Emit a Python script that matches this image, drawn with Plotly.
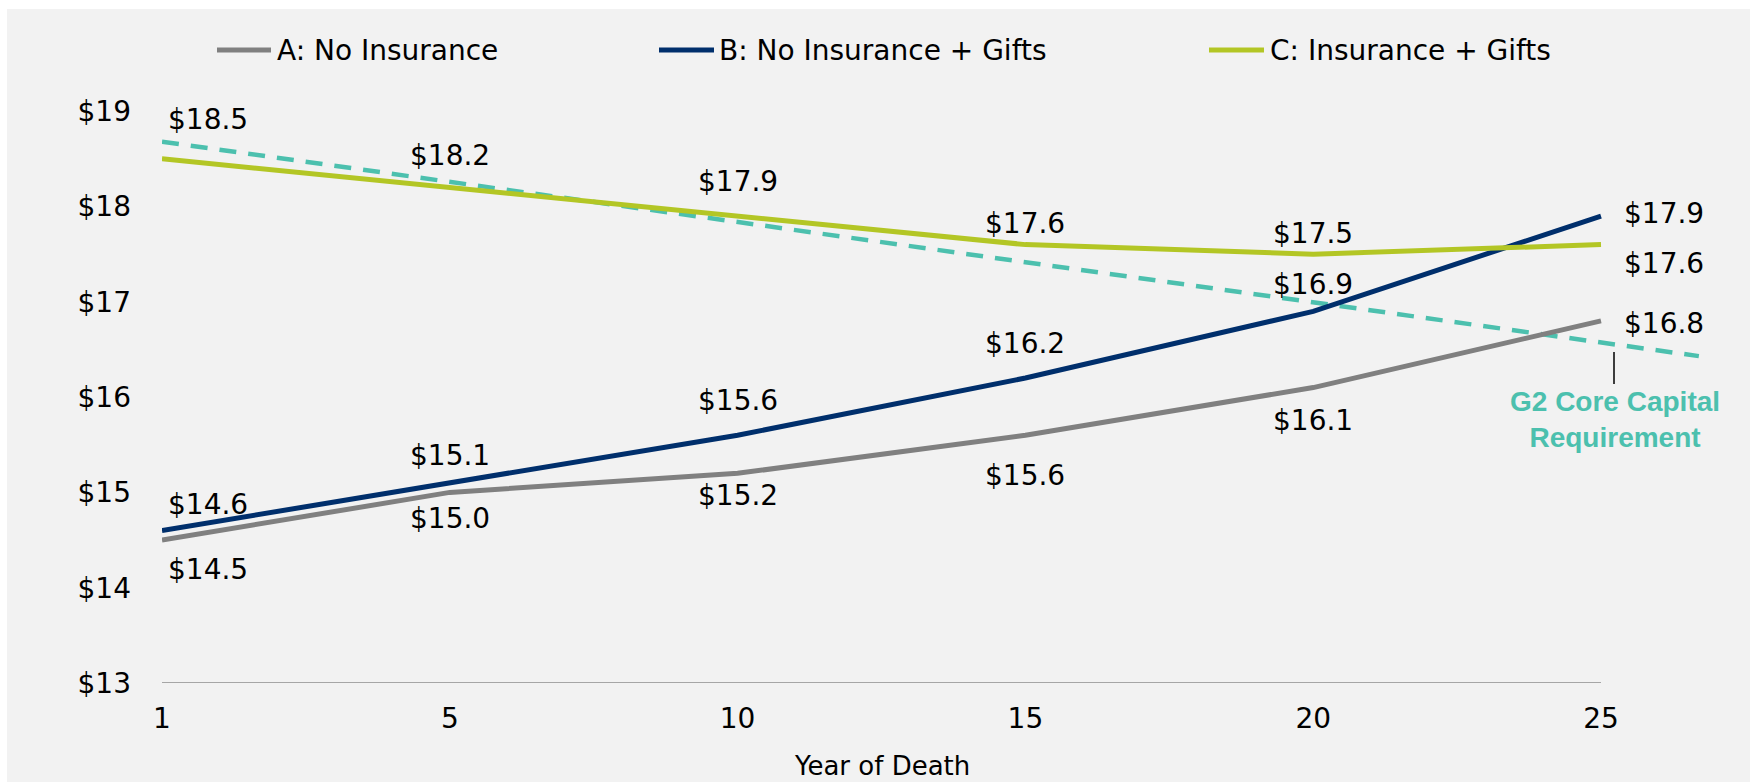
import plotly.graph_objects as go

# ---------------- data ----------------
years = ["1", "5", "10", "15", "20", "25"]
a_no_insurance = [14.5, 15.0, 15.2, 15.6, 16.1, 16.8]
b_no_ins_gifts = [14.6, 15.1, 15.6, 16.2, 16.9, 17.9]
c_ins_gifts = [18.5, 18.2, 17.9, 17.6, 17.5, 17.6]
g2_x = [0, 5.34]            # category-index positions of the requirement line
g2_values = [18.68, 16.43]
y_ticks = [13, 14, 15, 16, 17, 18, 19]
y_tick_labels = ["$13", "$14", "$15", "$16", "$17", "$18", "$19"]

# label vertical offsets (px, positive = up)
dy_a = [-29, -26, -22, -40, -33, -3]
dy_b = [26, 27, 35, 35, 27, 3]
dy_c = [39, 32, 35, 21, 21, -19]

GRAY = "#808080"
NAVY = "#002F6C"
LIME = "#B3C625"
TEAL = "#4CC0AE"
FONT = "DejaVu Sans, sans-serif"
FS = 28

# plot area in px
L, T, W, H = 162, 92, 1554, 591


def px_x(px):
    return (px - L) / W


def px_y(py):
    return (T + H - py) / H


xi = list(range(len(years)))
fig = go.Figure()

fig.add_trace(go.Scatter(x=g2_x, y=g2_values, mode="lines",
                         line=dict(color=TEAL, width=4.5, dash="17px,12px"),
                         showlegend=False, hoverinfo="skip"))
fig.add_trace(go.Scatter(x=xi, y=a_no_insurance, mode="lines", name="A: No Insurance",
                         line=dict(color=GRAY, width=5), showlegend=False))
fig.add_trace(go.Scatter(x=xi, y=b_no_ins_gifts, mode="lines", name="B: No Insurance + Gifts",
                         line=dict(color=NAVY, width=5), showlegend=False))
fig.add_trace(go.Scatter(x=xi, y=c_ins_gifts, mode="lines", name="C: Insurance + Gifts",
                         line=dict(color=LIME, width=5), showlegend=False))

annotations = []
shapes = []

# background panel
shapes.append(dict(type="rect", xref="paper", yref="paper",
                   x0=px_x(7), x1=px_x(1760), y0=px_y(790), y1=px_y(9),
                   fillcolor="#F2F2F2", line=dict(width=0), layer="below"))
# x axis line
shapes.append(dict(type="line", xref="x", yref="y", x0=0, x1=5, y0=13, y1=13,
                   line=dict(color="#A6A6A6", width=2)))

# data labels
for series, dys in ((a_no_insurance, dy_a), (b_no_ins_gifts, dy_b), (c_ins_gifts, dy_c)):
    for i, (v, dy) in enumerate(zip(series, dys)):
        if i == 0:
            xanchor, xshift = "left", 4
        elif i == len(series) - 1:
            xanchor, xshift = "center", 63
        else:
            xanchor, xshift = "center", 0
        annotations.append(dict(x=i, y=v, xref="x", yref="y", text=f"${v:.1f}",
                                showarrow=False, xanchor=xanchor, yanchor="middle",
                                xshift=xshift, yshift=dy,
                                font=dict(family=FONT, size=FS, color="black")))

# G2 label and leader line
annotations.append(dict(x=px_x(1615), y=px_y(419), xref="paper", yref="paper",
                        text="<b>G2 Core Capital<br>Requirement</b>", showarrow=False,
                        xanchor="center", yanchor="middle", align="center",
                        font=dict(family="Liberation Sans, Arial, sans-serif", size=28, color=TEAL)))
shapes.append(dict(type="line", xref="paper", yref="paper",
                   x0=px_x(1614), x1=px_x(1614), y0=px_y(352), y1=px_y(384),
                   line=dict(color="black", width=1.5)))

# x axis title
annotations.append(dict(x=2.5, y=px_y(766), xref="x", yref="paper", text="Year of Death",
                        showarrow=False, xanchor="center", yanchor="middle",
                        font=dict(family=FONT, size=26, color="black")))

# manual legend
legend_items = [("A: No Insurance", GRAY, 217, 271, 275),
                ("B: No Insurance + Gifts", NAVY, 659, 714, 717),
                ("C: Insurance + Gifts", LIME, 1209, 1264, 1268)]
for name, col, l0, l1, tx in legend_items:
    shapes.append(dict(type="line", xref="paper", yref="paper",
                       x0=px_x(l0), x1=px_x(l1), y0=px_y(50), y1=px_y(50),
                       line=dict(color=col, width=5)))
    annotations.append(dict(x=px_x(tx), y=px_y(50), xref="paper", yref="paper", text=name,
                            showarrow=False, xanchor="left", yanchor="middle",
                            font=dict(family=FONT, size=FS, color="black")))

fig.update_layout(
    width=1750, height=782, autosize=False,
    margin=dict(l=L, t=T, r=1750 - L - W, b=782 - T - H, pad=0),
    paper_bgcolor="white", plot_bgcolor="rgba(0,0,0,0)",
    font=dict(family=FONT, size=FS, color="black"),
    showlegend=False,
    shapes=shapes, annotations=annotations,
    xaxis=dict(range=[0, W / 287.8], tickvals=xi, ticktext=years, showgrid=False,
               zeroline=False, showline=False, ticks="", ticklabelstandoff=16,
               tickfont=dict(family=FONT, size=FS)),
    yaxis=dict(range=[13, 13 + H / 95.3], tickvals=y_ticks, ticktext=y_tick_labels,
               showgrid=False, zeroline=False, showline=False, ticks="",
               ticklabelstandoff=30, tickfont=dict(family=FONT, size=FS)),
)

fig.write_html("out.html", config={"displayModeBar": False},
               post_script="document.body.style.margin='0';document.body.style.overflow='hidden';")
